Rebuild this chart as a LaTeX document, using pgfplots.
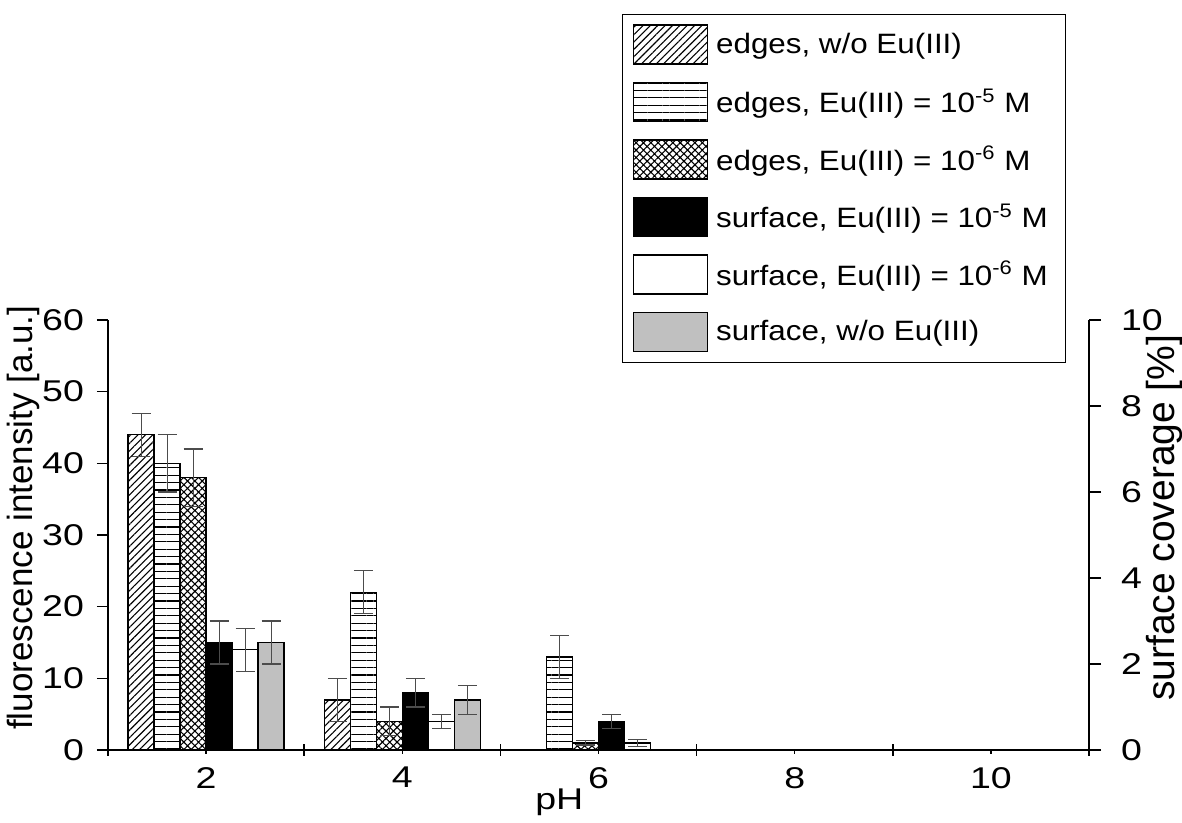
\documentclass[border=0pt]{standalone}
\usepackage{pgfplots}
\pgfplotsset{compat=1.18}
\usepackage{fontspec}
\setmainfont{Liberation Sans}
\newfontfamily\tickfont[FakeStretch=1.25]{Liberation Sans}
\newfontfamily\legfont[FakeStretch=1.12]{Liberation Sans}
\usetikzlibrary{patterns.meta}
\definecolor{bargray}{HTML}{C0C0C0}
\pgfplotsset{
  base/.style={
    at={(0,0)}, anchor=south west,
    scale only axis, width=490.5pt, height=215pt,
    xmin=1, xmax=11,
    axis line style={line width=0.75pt},
    every tick/.style={line width=0.75pt, black},
    /pgf/number format/assume math mode=true,
    ticklabel style={font=\tickfont\fontsize{15}{18}\selectfont},
  }
}
\begin{document}
\begin{tikzpicture}
% left y axis
\begin{axis}[base,
  ymin=0, ymax=60,
  axis x line=none, axis y line*=left,
  ytick={0,10,...,60},
  tick align=outside, major tick length=5.5pt,
  yticklabel style={anchor=east, xshift=-3pt},
  ylabel={fluorescence intensity [a.u.]},
  ylabel style={at={(axis description cs:-0.0866,0.54)}, anchor=center, inner sep=0pt, font=\fontsize{17.5}{20}\selectfont},
]
\end{axis}
% right y axis
\begin{axis}[base,
  ymin=0, ymax=10,
  axis x line=none, axis y line*=right,
  ytick={0,2,...,10},
  tick align=outside, major tick length=6pt,
  yticklabel style={anchor=west, xshift=6.5pt},
  ylabel={surface coverage [\%]},
  ylabel style={at={(axis description cs:1.0765,0.54)}, anchor=center, inner sep=0pt, font=\fontsize{19.5}{22}\selectfont},
]
\end{axis}
% bars + x axis
\begin{axis}[base,
  name=ax,
  ymin=0, ymax=60,
  axis x line*=bottom, axis y line=none,
  ytick=\empty,
  xtick={2,4,6,8,10},
  tick align=inside, major tick length=2pt,
  extra x ticks={1,3,5,7,9,11},
  extra x tick style={tick align=center, major tick length=6pt, xticklabel style={opacity=0}},
  xticklabel style={yshift=-3pt},
  xlabel={pH},
  xlabel style={at={(axis description cs:0.46,0)}, anchor=north, yshift=-19pt, inner sep=0pt, font=\tickfont\fontsize{15}{18}\selectfont},
  ybar=0pt, bar width=13pt,
  every axis plot/.append style={draw=black, line width=0.75pt},
  error bars/y dir=both, error bars/y explicit,
  error bars/error bar style={black!70, line width=0.6pt},
  error bars/error mark options={rotate=90, black!70, line width=0.6pt, mark size=4.7pt},
  legend cell align=left,
  legend image code/.code={\draw[#1] (0pt,-9.75pt) rectangle (37pt,9.75pt);},
  legend style={at={(rel axis cs:0.524,1.712)}, anchor=north west, draw=black, line width=0.6pt,
    font=\legfont\fontsize{14}{16}\selectfont, inner xsep=5pt, inner ysep=5pt, row sep=8.5pt,
    nodes={inner ysep=0pt, inner xsep=4pt}},
]
\addplot[pattern={Lines[angle=45,distance=2.6pt,line width=0.55pt]}] coordinates {(2,44) +- (0,3) (4,7) +- (0,3)};
\addlegendentry{edges, w/o Eu(III)}
\addplot[pattern={Lines[angle=0,distance=3.7pt,line width=0.6pt]}] coordinates {(2,40) +- (0,4) (4,22) +- (0,3) (6,13) +- (0,3)};
\addlegendentry{edges, Eu(III) = 10\textsuperscript{-5} M}
\addplot[pattern={Hatch[angle=45,distance=2.6pt,line width=0.55pt]}] coordinates {(2,38) +- (0,4) (4,4) +- (0,2) (6,1) +- (0,0.3)};
\addlegendentry{edges, Eu(III) = 10\textsuperscript{-6} M}
\addplot[fill=black] coordinates {(2,15) +- (0,3) (4,8) +- (0,2) (6,4) +- (0,1)};
\addlegendentry{surface, Eu(III) = 10\textsuperscript{-5} M}
\addplot[fill=white] coordinates {(2,14) +- (0,3) (4,4) +- (0,1) (6,1) +- (0,0.5)};
\addlegendentry{surface, Eu(III) = 10\textsuperscript{-6} M}
\addplot[fill=bargray] coordinates {(2,15) +- (0,3) (4,7) +- (0,2)};
\addlegendentry{surface, w/o Eu(III)}
\end{axis}
\pgfresetboundingbox
\path[use as bounding box] (ax.south west) ++(-54pt,-36.5pt) rectangle ++(591pt,411.5pt);
\end{tikzpicture}
\end{document}
